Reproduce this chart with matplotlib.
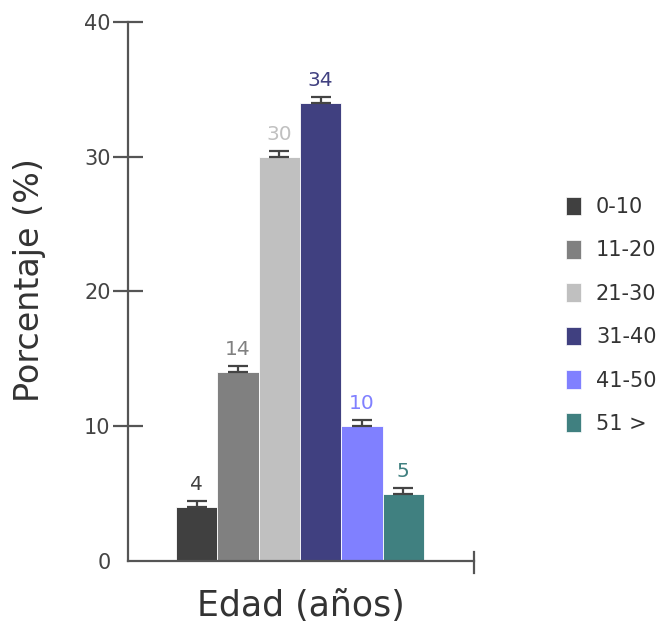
import matplotlib
matplotlib.use("Agg")
import matplotlib.pyplot as plt
from matplotlib.patches import Patch

plt.rcParams['font.family'] = ['DejaVu Sans']

# data
grupos = ["0-10", "11-20", "21-30", "31-40", "41-50", "51 >"]
porcentaje = [4, 14, 30, 34, 10, 5]
error = [0.45, 0.45, 0.45, 0.45, 0.45, 0.45]
colores = ["#404040", "#808080", "#c0c0c0", "#404080", "#8080ff", "#408080"]
yticks = [0, 10, 20, 30, 40]

fig = plt.figure(figsize=(6.65, 6.26), dpi=100)
ax = fig.add_axes([0.1925, 0.1038, 0.5203, 0.8611])

x = list(range(len(grupos)))
ax.bar(x, porcentaje, width=1.0, color=colores, edgecolor="white", linewidth=0.6)
ax.errorbar(x, porcentaje, yerr=[[0] * len(error), error], fmt="none",
            ecolor="#444444", elinewidth=1.6, capsize=7.5, capthick=1.6)

for xi, v, e, c in zip(x, porcentaje, error, colores):
    ax.annotate(str(v), (xi, v + e), xytext=(0, 5), textcoords="offset points",
                ha="center", va="bottom", fontsize=14.5, color=c)

ax.set_xlim(-1.66, 6.71)
ax.set_ylim(0, 40)
ax.set_yticks(yticks)
ax.set_xticks([])
for s in ["top", "right"]:
    ax.spines[s].set_visible(False)
for s in ["left", "bottom"]:
    ax.spines[s].set_color("#555555")
    ax.spines[s].set_linewidth(1.6)
ax.tick_params(axis="y", direction="inout", length=21, width=1.6, color="#555555",
               labelsize=15, labelcolor="#444444", pad=2)
ax.yaxis.get_major_ticks()[0].tick1line.set_visible(False)
ax.plot([1, 1], [0.017, -0.022], transform=ax.transAxes, color="#555555",
        lw=1.6, clip_on=False)

ax.set_ylabel("Porcentaje (%)", fontsize=24, color="#333333")
ax.yaxis.set_label_coords(-0.237, 0.522)
ax.set_xlabel("Edad (años)", fontsize=25, color="#333333")
ax.xaxis.set_label_coords(0.5, -0.052)

handles = [Patch(facecolor=c, edgecolor="white", linewidth=0.5) for c in colores]
fig.legend(handles, grupos, loc="upper left", bbox_to_anchor=(0.851, 0.686),
           frameon=False, fontsize=15, handlelength=0.72, handleheight=1.0,
           handletextpad=0.72, labelspacing=1.1, labelcolor="#333333",
           borderpad=0, borderaxespad=0)

fig.savefig("out.png", dpi=100)
